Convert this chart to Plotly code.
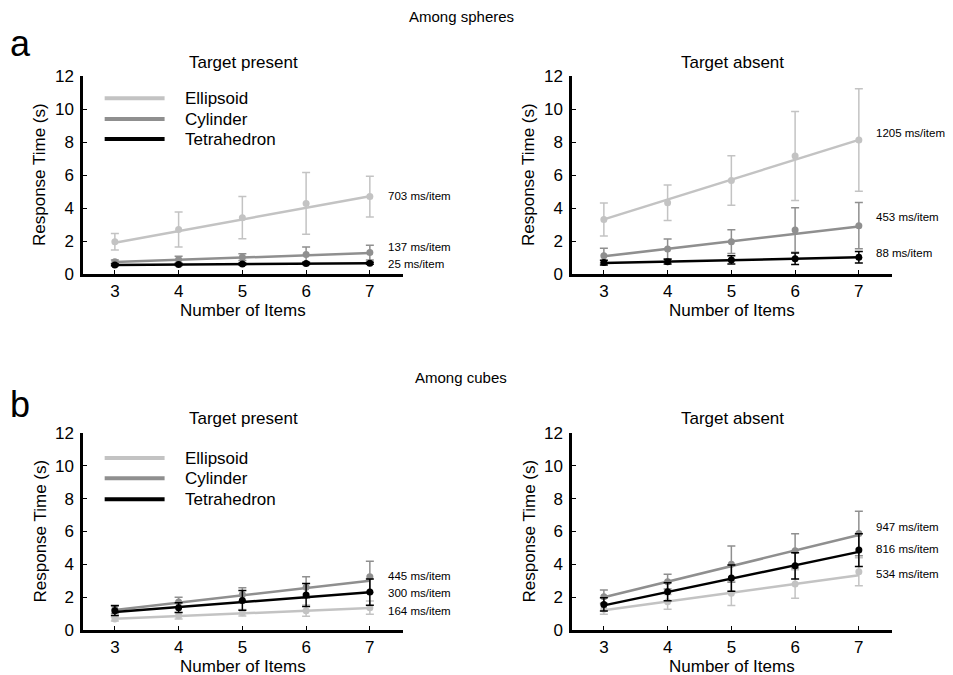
import plotly.graph_objects as go

items = [3, 4, 5, 6, 7]
shapes_names = ["Ellipsoid", "Cylinder", "Tetrahedron"]
colors = {"Ellipsoid": "#c3c3c3", "Cylinder": "#8f8f8f", "Tetrahedron": "#000000"}

# ---- Among spheres, target present ----
sp_pres_mean = {
    "Ellipsoid": [1.96, 2.70, 3.41, 4.28, 4.69],
    "Cylinder": [0.75, 0.88, 1.02, 1.18, 1.30],
    "Tetrahedron": [0.55, 0.57, 0.60, 0.64, 0.65],
}
sp_pres_err = {
    "Ellipsoid": [0.50, 1.06, 1.28, 1.87, 1.23],
    "Cylinder": [0.10, 0.20, 0.20, 0.45, 0.45],
    "Tetrahedron": [0.05, 0.05, 0.06, 0.06, 0.06],
}
sp_pres_fit = {"Ellipsoid": [1.90, 4.71], "Cylinder": [0.72, 1.27], "Tetrahedron": [0.55, 0.65]}
sp_pres_slope = {"Ellipsoid": "703 ms/item", "Cylinder": "137 ms/item", "Tetrahedron": "25 ms/item"}

# ---- Among spheres, target absent ----
sp_abs_mean = {
    "Ellipsoid": [3.31, 4.32, 5.66, 7.15, 8.12],
    "Cylinder": [1.11, 1.52, 1.96, 2.67, 2.93],
    "Tetrahedron": [0.69, 0.75, 0.85, 0.93, 1.01],
}
sp_abs_err = {
    "Ellipsoid": [1.00, 1.08, 1.50, 2.70, 3.10],
    "Cylinder": [0.45, 0.60, 0.72, 1.35, 1.40],
    "Tetrahedron": [0.15, 0.15, 0.25, 0.35, 0.35],
}
sp_abs_fit = {"Ellipsoid": [3.31, 8.13], "Cylinder": [1.07, 2.88], "Tetrahedron": [0.66, 1.01]}
sp_abs_slope = {"Ellipsoid": "1205 ms/item", "Cylinder": "453 ms/item", "Tetrahedron": "88 ms/item"}

# ---- Among cubes, target present ----
cu_pres_mean = {
    "Ellipsoid": [0.67, 0.87, 1.05, 1.18, 1.36],
    "Cylinder": [1.26, 1.70, 2.17, 2.60, 3.24],
    "Tetrahedron": [1.18, 1.36, 1.80, 2.13, 2.31],
}
cu_pres_err = {
    "Ellipsoid": [0.12, 0.20, 0.20, 0.35, 0.40],
    "Cylinder": [0.25, 0.30, 0.40, 0.65, 0.95],
    "Tetrahedron": [0.30, 0.30, 0.60, 0.70, 0.80],
}
cu_pres_fit = {"Ellipsoid": [0.68, 1.34], "Cylinder": [1.22, 3.00], "Tetrahedron": [1.10, 2.30]}
cu_pres_slope = {"Ellipsoid": "164 ms/item", "Cylinder": "445 ms/item", "Tetrahedron": "300 ms/item"}

# ---- Among cubes, target absent ----
cu_abs_mean = {
    "Ellipsoid": [1.26, 1.72, 2.24, 2.80, 3.55],
    "Cylinder": [2.03, 2.94, 4.01, 4.82, 5.88],
    "Tetrahedron": [1.56, 2.33, 3.16, 3.91, 4.87],
}
cu_abs_err = {
    "Ellipsoid": [0.30, 0.45, 0.75, 0.87, 0.85],
    "Cylinder": [0.40, 0.45, 1.10, 1.05, 1.35],
    "Tetrahedron": [0.40, 0.55, 0.80, 0.80, 1.00],
}
cu_abs_fit = {"Ellipsoid": [1.20, 3.34], "Cylinder": [2.00, 5.79], "Tetrahedron": [1.50, 4.76]}
cu_abs_slope = {"Ellipsoid": "534 ms/item", "Cylinder": "947 ms/item", "Tetrahedron": "816 ms/item"}

panel_titles = ["Target present", "Target absent", "Target present", "Target absent"]
section_titles = ["Among spheres", "Among cubes"]
section_letters = ["a", "b"]
x_title = "Number of Items"
y_title = "Response Time (s)"

FONT = "Liberation Sans, Arial, Helvetica, sans-serif"
OFF = 8  # page body margin
W, H = 953 - 2 * OFF, 675 - OFF


def px_x(p):
    return (p - OFF) / W


def px_y(p):
    return 1 - (p - OFF) / H


panels = [
    (sp_pres_mean, sp_pres_err, sp_pres_fit, sp_pres_slope),
    (sp_abs_mean, sp_abs_err, sp_abs_fit, sp_abs_slope),
    (cu_pres_mean, cu_pres_err, cu_pres_fit, cu_pres_slope),
    (cu_abs_mean, cu_abs_err, cu_abs_fit, cu_abs_slope),
]

# layout geometry (page pixels)
x_doms_px = [(83, 403), (572, 892)]
y_doms_px = [(76, 274), (433, 630)]
label_y = [
    {"Ellipsoid": 4.73, "Cylinder": 1.64, "Tetrahedron": 0.60},
    {"Ellipsoid": 8.55, "Cylinder": 3.45, "Tetrahedron": 1.27},
    {"Ellipsoid": 1.16, "Cylinder": 3.29, "Tetrahedron": 2.25},
    {"Ellipsoid": 3.41, "Cylinder": 6.27, "Tetrahedron": 4.93},
]
label_x = [7.25, 7.24]

fig = go.Figure()
annotations = []
shapes = []
layout_axes = {}

for i, (mean, err, fit, slope) in enumerate(panels):
    col = i % 2
    row = i // 2
    xn = "x" if i == 0 else f"x{i+1}"
    yn = "y" if i == 0 else f"y{i+1}"
    xkey = "xaxis" if i == 0 else f"xaxis{i+1}"
    ykey = "yaxis" if i == 0 else f"yaxis{i+1}"
    xd = [px_x(x_doms_px[col][0]), px_x(x_doms_px[col][1])]
    yd = [px_y(y_doms_px[row][1]), px_y(y_doms_px[row][0])]
    layout_axes[xkey] = dict(
        domain=xd, anchor=yn, range=[2.5, 7.52], tickvals=items, automargin=False,
        showline=True, linecolor="black", linewidth=2.5, ticks="inside", ticklen=4,
        tickwidth=1, tickcolor="black", showgrid=False, zeroline=False,
        tickfont=dict(size=17, color="black", family=FONT), ticklabelstandoff=0,
    )
    layout_axes[ykey] = dict(
        domain=yd, anchor=xn, range=[0, 12], tickvals=[0, 2, 4, 6, 8, 10, 12], automargin=False,
        showline=True, linecolor="black", linewidth=2.5, ticks="inside", ticklen=4,
        tickwidth=1, tickcolor="black", showgrid=False, zeroline=False,
        tickfont=dict(size=17, color="black", family=FONT), ticklabelstandoff=3,
    )
    for name in shapes_names:
        c = colors[name]
        fig.add_trace(go.Scatter(
            x=[items[0], items[-1]], y=fit[name], mode="lines",
            line=dict(color=c, width=2.5), xaxis=xn, yaxis=yn, showlegend=False,
            hoverinfo="skip",
        ))
        fig.add_trace(go.Scatter(
            x=items, y=mean[name], mode="markers",
            marker=dict(color=c, size=7),
            error_y=dict(type="data", array=err[name], color=c, thickness=1.5, width=4),
            xaxis=xn, yaxis=yn, showlegend=False, name=name,
        ))
        annotations.append(dict(
            x=label_x[col], y=label_y[i][name], xref=xn, yref=yn, text=slope[name],
            showarrow=False, xanchor="left", yanchor="middle",
            font=dict(size=11.5, color="black", family=FONT),
        ))
    cxp = (x_doms_px[col][0] + x_doms_px[col][1]) / 2
    ty = [62, 418][row]
    annotations.append(dict(
        x=px_x(cxp), y=px_y(ty), xref="paper", yref="paper", text=panel_titles[i],
        showarrow=False, xanchor="center", yanchor="middle",
        font=dict(size=17, color="black", family=FONT),
    ))
    annotations.append(dict(
        x=px_x(cxp), y=px_y(y_doms_px[row][1] + 36), xref="paper", yref="paper", text=x_title,
        showarrow=False, xanchor="center", yanchor="middle",
        font=dict(size=17, color="black", family=FONT),
    ))
    annotations.append(dict(
        x=px_x(x_doms_px[col][0] - 43), y=px_y((y_doms_px[row][0] + y_doms_px[row][1]) / 2),
        xref="paper", yref="paper", text=y_title, textangle=-90,
        showarrow=False, xanchor="center", yanchor="middle",
        font=dict(size=17, color="black", family=FONT),
    ))
    if col == 0:
        leg_y = [[10.65, 9.39, 8.18], [10.47, 9.25, 7.97]][row]
        for name, ly in zip(shapes_names, leg_y):
            shapes.append(dict(
                type="line", xref=xn, yref=yn, x0=2.84, x1=3.78, y0=ly, y1=ly,
                line=dict(color=colors[name], width=4),
            ))
            annotations.append(dict(
                x=4.07, y=ly, xref=xn, yref=yn, text=name, showarrow=False,
                xanchor="left", yanchor="middle",
                font=dict(size=17, color="black", family=FONT),
            ))

for r in range(2):
    annotations.append(dict(
        x=px_x(461), y=px_y([17, 377][r]), xref="paper", yref="paper", text=section_titles[r],
        showarrow=False, xanchor="center", yanchor="middle",
        font=dict(size=15, color="black", family=FONT),
    ))
    annotations.append(dict(
        x=px_x(8), y=px_y([44, 404][r]), xref="paper", yref="paper", text=section_letters[r],
        showarrow=False, xanchor="left", yanchor="middle",
        font=dict(size=36, color="black", family=FONT),
    ))

fig.update_layout(
    width=W, height=H, margin=dict(l=0, r=0, t=0, b=0), autosize=False,
    paper_bgcolor="white", plot_bgcolor="white", showlegend=False,
    annotations=annotations, shapes=shapes, **layout_axes,
)
fig.write_html("out.html")
